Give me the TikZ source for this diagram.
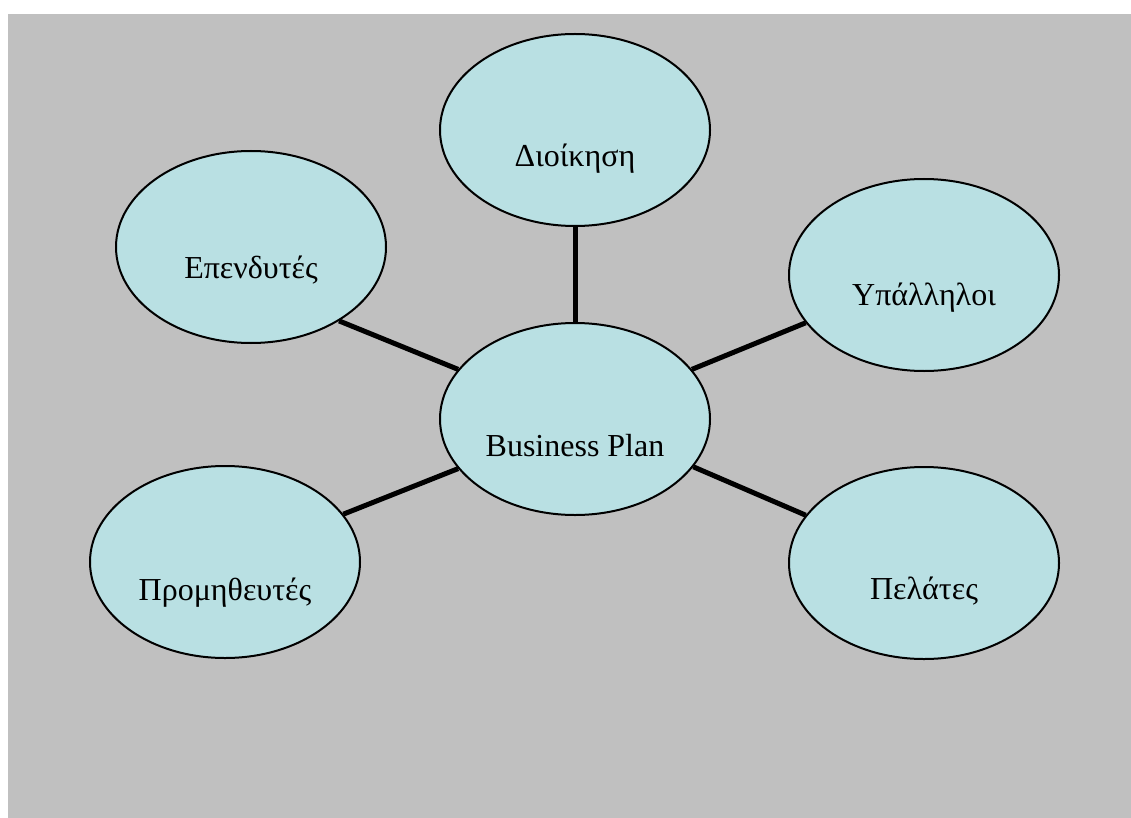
\documentclass[tikz,border=0pt]{standalone}
\usepackage{fontspec}
\setmainfont{Liberation Serif}
\usepackage{tikz}
\usetikzlibrary{shapes}

\definecolor{sheetgray}{RGB}{192,192,192}
\definecolor{bubblefill}{RGB}{185,224,227}

\tikzset{
    bubble/.style={draw=black, line width=2pt, fill=bubblefill, ellipse,
        minimum width=270pt, minimum height=192pt, inner sep=0pt},
    caption/.style={anchor=base, font=\fontsize{32}{38}\selectfont},
    spoke/.style={line width=5pt, black},
}

\begin{document}
\begin{tikzpicture}[x=1pt, y=-1pt]

    % Background sheet
    \useasboundingbox (0, 0) rectangle (1131, 818);
    \fill[sheetgray] (8, 14) rectangle (1131, 818);

    % Declare the bubbles
    \node[bubble] at (575, 419) (bp) {};
    \node[bubble] at (575, 130) (adm) {};
    \node[bubble] at (251, 247) (inv) {};
    \node[bubble] at (924, 275) (emp) {};
    \node[bubble] at (225, 562) (sup) {};
    \node[bubble] at (924, 563) (cus) {};

    % Declare the captions
    \node[caption] at ([yshift=-37pt]bp.center) (bpt) {Business Plan};
    \node[caption] at ([yshift=-37pt]adm.center) (admt) {Διοίκηση};
    \node[caption] at ([yshift=-31pt]inv.center) (invt) {Επενδυτές};
    \node[caption] at ([yshift=-30pt]emp.center) (empt) {Υπάλληλοι};
    \node[caption] at ([yshift=-38pt]sup.center) (supt) {Προμηθευτές};
    \node[caption] at ([yshift=-36pt]cus.center) (cust) {Πελάτες};

    % Declare spokes
    \draw[spoke] (adm.south) -- (bp.north);
    \draw[spoke] (inv.-40) -- (bp.157);
    \draw[spoke] (emp.-158) -- (bp.23);
    \draw[spoke] (cus.158) -- (bp.-22);
    \draw[spoke] (sup.22) -- (bp.-157);

\end{tikzpicture}
\end{document}
